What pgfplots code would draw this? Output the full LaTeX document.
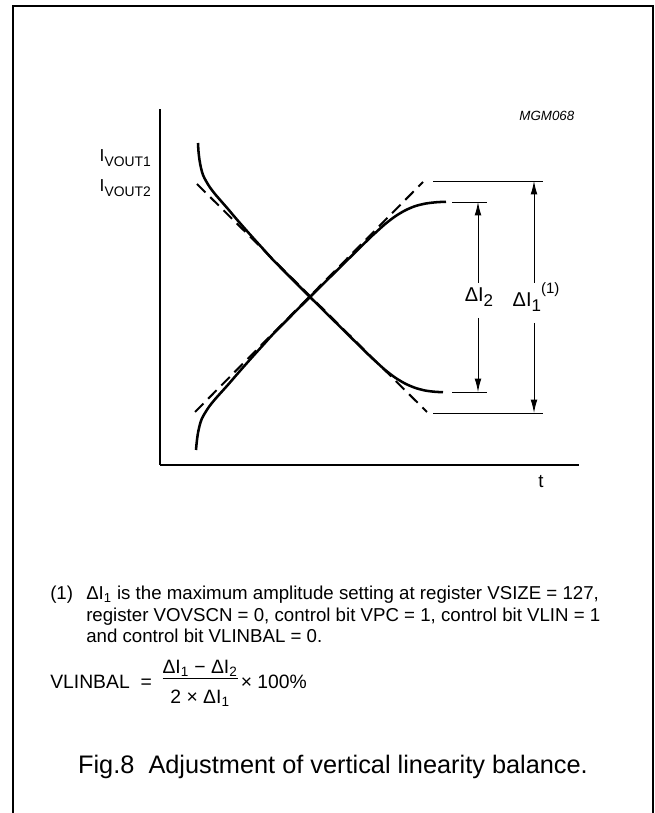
\documentclass[border=0pt]{standalone}
\usepackage{pgfplots}
\pgfplotsset{compat=1.18}
\usepackage{fontspec}
\setmainfont{Liberation Sans}
\usetikzlibrary{arrows.meta}
\newcommand\bsub[1]{\raisebox{-0.45ex}{\scalebox{0.85}{#1}}}
\newcommand\vsub[1]{\raisebox{-0.45ex}{\scalebox{0.8}{#1}}}
\begin{document}
\begin{tikzpicture}[x=0.75pt,y=0.75pt]
\path[use as bounding box] (0,0) rectangle (655,813);
\draw[line width=1.4pt] (13,0) -- (13,807) -- (653,807) -- (653,0);
\begin{axis}[
  at={(160,348)}, anchor=south west,
  width=314.25pt, height=267pt, scale only axis,
  xmin=160, xmax=579, ymin=348, ymax=704,
  axis lines=left, axis line style={-, line width=1.1pt},
  ticks=none, clip=false,
]
% decreasing curve
\addplot[line width=1.9pt, smooth, black] coordinates {
(198,670) (198.5,661.5) (199.5,653) (201,645) (203,638) (206,632) (210,625.5)
(215,619) (221,612) (228,604) (236,594.5) (245,584.2) (255,573) (265,562)
(275,551.1) (310,516) (365,461.7) (375,452.2) (385,443.2) (395,435.5)
(405,429.5) (415,425.2) (425,422.5) (435,421.2) (443,420.8)};
% increasing curve
\addplot[line width=1.9pt, smooth, black] coordinates {
(196,363) (196.7,370.5) (197.8,379) (199.5,387) (201.7,394) (205,400) (209.2,406.5)
(214.4,413) (220.6,420) (227.8,428) (236,437.5) (245,447.8) (255,459) (265,470)
(275,480.9) (310,516) (365,570.3) (375,579.8) (385,588.8) (395,596.5)
(405,602.5) (415,606.8) (426,609.5) (437,610.8) (446,611.2)};
% dashed asymptotes
\addplot[line width=1.5pt, black, dash pattern=on 9pt off 5pt] coordinates {(197,629) (427,401)};
\addplot[line width=1.5pt, black, dash pattern=on 9pt off 5pt] coordinates {(195,401) (423,631)};
% reference lines
\addplot[line width=0.7pt, black] coordinates {(433,632) (543,632)};
\addplot[line width=0.7pt, black] coordinates {(433,400) (543,400)};
\addplot[line width=0.7pt, black] coordinates {(452,611) (487,611)};
\addplot[line width=0.7pt, black] coordinates {(452,421) (487,421)};
% arrows
\addplot[line width=0.7pt, black, -{Latex[length=10pt,width=5pt]}] coordinates {(478,530) (478,611)};
\addplot[line width=0.7pt, black, -{Latex[length=10pt,width=5pt]}] coordinates {(478,495) (478,421)};
\addplot[line width=0.7pt, black, -{Latex[length=10pt,width=5pt]}] coordinates {(534,530) (534,632)};
\addplot[line width=0.7pt, black, -{Latex[length=10pt,width=5pt]}] coordinates {(534,490) (534,400)};
% labels
\node[font=\fontsize{15}{15}\selectfont] at (axis cs:479,516) {ΔI\bsub{2}};
\node[font=\fontsize{15}{15}\selectfont] at (axis cs:536,516) {ΔI\bsub{1}\raisebox{1.2ex}{\scalebox{0.75}{(1)}}};
\node[font=\fontsize{14}{14}\selectfont] at (axis cs:541,331) {t};
\node[font=\itshape\fontsize{10}{10}\selectfont, anchor=east] at (axis cs:579,697) {MGM068};
\node[font=\fontsize{13}{13}\selectfont, anchor=base east, inner sep=0pt] at (axis cs:151,651) {I\vsub{VOUT1}};
\node[font=\fontsize{13}{13}\selectfont, anchor=base east, inner sep=0pt] at (axis cs:151,621) {I\vsub{VOUT2}};
\end{axis}
\begin{scope}[every node/.style={anchor=base west, inner sep=0pt, font=\fontsize{14}{16}\selectfont}]
\node at (50,213) {(1)};
\node at (86,213) {ΔI\textsubscript{1} is the maximum amplitude setting at register VSIZE = 127,};
\node at (86,191) {register VOVSCN = 0, control bit VPC = 1, control bit VLIN = 1};
\node at (86,170) {and control bit VLINBAL = 0.};
\end{scope}
\node[anchor=west, inner sep=0pt, font=\fontsize{14.5}{16}\selectfont] at (50,129)
  {VLINBAL\ \ =\ \ \begin{tabular}{@{}c@{}}ΔI\textsubscript{1} − ΔI\textsubscript{2}\\[-1pt]\hline\rule{0pt}{2.4ex}2 × ΔI\textsubscript{1}\end{tabular}\,× 100\%};
\node[font=\fontsize{19}{20}\selectfont] at (333,46) {Fig.8\ \ Adjustment of vertical linearity balance.};
\end{tikzpicture}
\end{document}
